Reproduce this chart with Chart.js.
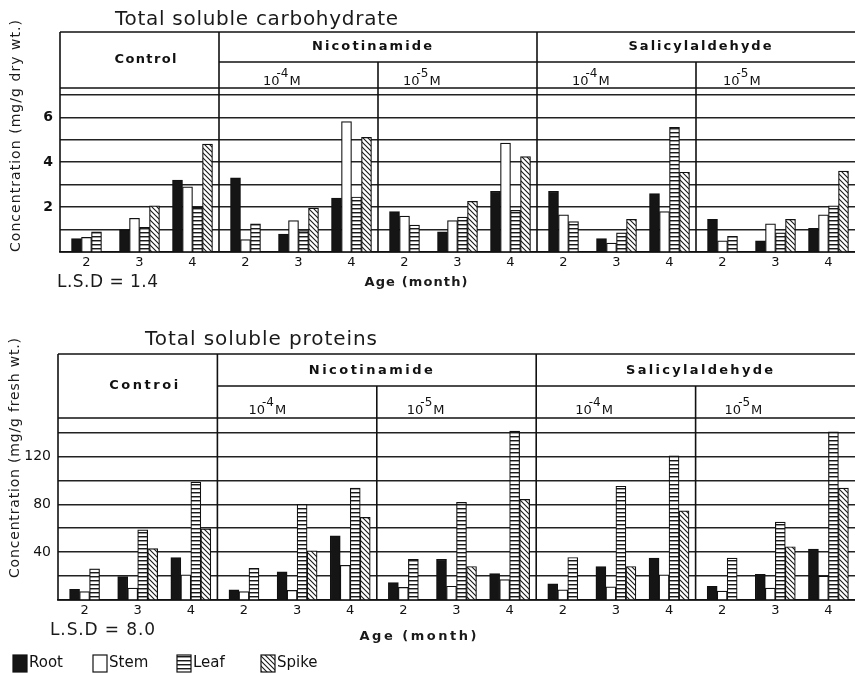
<!DOCTYPE html>
<html>
<head>
<meta charset="utf-8">
<script src="https://cdn.jsdelivr.net/npm/chart.js@4.4.0/dist/chart.umd.min.js"></script>
<style>
  html, body { margin: 0; padding: 0; background: #fff; overflow: hidden; }
  .box { position: absolute; left: 0; width: 855px; }
</style>
</head>
<body>
<div class="box" style="top:0;height:300px"><canvas id="c1"></canvas></div>
<div class="box" style="top:300px;height:373px"><canvas id="c2"></canvas></div>
<script>
// ---------- data ----------
const ages = ['2','3','4', '2','3','4', '2','3','4', '2','3','4', '2','3','4'];
const groupNames = ['Control', 'Nicotinamide', 'Salicylaldehyde'];
const concExp = ['-4', '-5', '-4', '-5'];
const seriesNames = ['Root', 'Stem', 'Leaf', 'Spike'];

// Total soluble carbohydrate (mg/g dry wt.)
const carbRoot  = [0.6, 1.0, 3.2,   3.3, 0.8, 2.4,   1.8, 0.9, 2.7,   2.7, 0.6, 2.6,   1.45, 0.5, 1.05];
const carbStem  = [0.65, 1.5, 2.9,  0.55, 1.4, 5.8,  1.6, 1.4, 4.85,  1.65, 0.4, 1.8,  0.5, 1.25, 1.65];
const carbLeaf  = [0.9, 1.1, 2.0,   1.25, 0.95, 2.45, 1.2, 1.55, 1.85, 1.35, 0.85, 5.55, 0.7, 0.85, 2.05];
const carbSpike = [null, 2.05, 4.8, null, 1.95, 5.1, null, 2.25, 4.25, null, 1.45, 3.55, null, 1.45, 3.6];
const carbTickLabels = [2, 4, 6];

// Total soluble proteins (mg/g fresh wt.)
const protRoot  = [9, 19.5, 35.5,  8.5, 23.5, 53.5,  14.5, 34, 22,   13.5, 28, 35,   11.5, 21.5, 42.5];
const protStem  = [7, 10, 21,      7, 8, 29,         10.5, 11.5, 17, 8.5, 11, 21,    7.5, 10, 20];
const protLeaf  = [26, 58.5, 98.5, 26.5, 80, 93.5,   34, 81.5, 141,  35.5, 95, 120.5, 35, 65, 140.5];
const protSpike = [null, 43, 59.5, null, 41, 69,     null, 28, 84,   null, 28, 74.5, null, 44.5, 93.5];
const protTickLabels = [40, 80, 120];

// ---------- fills ----------
function mkPattern(draw, w, h) {
  const c = document.createElement('canvas'); c.width = w; c.height = h;
  const g = c.getContext('2d');
  g.fillStyle = '#fff'; g.fillRect(0, 0, w, h);
  draw(g);
  return document.createElement('canvas').getContext('2d').createPattern(c, 'repeat');
}
const leafFill = mkPattern(g => { g.fillStyle = '#1a1a1a'; g.fillRect(0, 0, 4, 1); g.fillStyle='#999'; g.fillRect(0,1,4,1); }, 4, 4);
const spikeFill = mkPattern(g => {
  g.strokeStyle = '#1a1a1a'; g.lineWidth = 1.1;
  g.beginPath();
  g.moveTo(-1, -1); g.lineTo(6, 6);
  g.moveTo(-1, 4); g.lineTo(1, 6);
  g.moveTo(4, -1); g.lineTo(6, 1);
  g.stroke();
}, 5, 5);
const fills = ['#151515', '#ffffff', leafFill, spikeFill];

// ---------- drawing helpers ----------
function fitText(ctx, text, x, y, w, font, align) {
  ctx.font = font; ctx.letterSpacing = '0px';
  const m = ctx.measureText(text).width;
  const ls = (w - m) / Math.max(1, text.length - 1);
  ctx.letterSpacing = ls + 'px';
  ctx.textAlign = 'left'; ctx.textBaseline = 'middle';
  ctx.fillText(text, align === 'center' ? x - w / 2 : x, y);
  ctx.letterSpacing = '0px';
}
function line(ctx, x1, y1, x2, y2) { ctx.beginPath(); ctx.moveTo(x1, y1); ctx.lineTo(x2, y2); ctx.stroke(); }
function drawPow(ctx, x, y, exp) {
  ctx.textAlign = 'left'; ctx.textBaseline = 'alphabetic';
  ctx.font = '13px "DejaVu Sans"';
  ctx.fillText('10', x, y);
  const w = ctx.measureText('10').width;
  ctx.font = '12px "DejaVu Sans"';
  ctx.fillText(exp, x + w - 3, y - 8);
  const w2 = ctx.measureText(exp).width;
  ctx.font = '13px "DejaVu Sans"';
  ctx.fillText('M', x + w - 3 + w2 + 1, y);
}

function decorPlugin(cfg) {
  return {
    id: 'decor_' + cfg.key,
    afterDraw(chart) {
      const ctx = chart.ctx, a = chart.chartArea, xs = chart.scales.x;
      const edge = i => (xs.getPixelForTick(i) + xs.getPixelForTick(i + 1)) / 2;
      const L = a.left, R = a.right, T = a.top, B = a.bottom;
      const b = [edge(2), edge(5), edge(8), edge(11)];
      ctx.save();
      ctx.strokeStyle = '#111'; ctx.lineWidth = 1.6; ctx.fillStyle = '#111';
      // header frame
      line(ctx, L, cfg.hTop, R, cfg.hTop);
      line(ctx, b[0], cfg.hRow, R, cfg.hRow);
      line(ctx, L, T, R, T);
      line(ctx, L, cfg.hTop, L, B);
      line(ctx, b[0], cfg.hTop, b[0], B);
      line(ctx, b[2], cfg.hTop, b[2], B);
      line(ctx, b[1], cfg.hRow, b[1], B);
      line(ctx, b[3], cfg.hRow, b[3], B);
      // header texts
      fitText(ctx, cfg.controlText, (L + b[0]) / 2 + 6, cfg.ctrlY, cfg.ctrlW, 'bold 13px "DejaVu Sans"', 'center');
      fitText(ctx, groupNames[1], (b[0] + b[2]) / 2 - 6, cfg.grpY, cfg.nicW, 'bold 13px "DejaVu Sans"', 'center');
      fitText(ctx, groupNames[2], (b[2] + R) / 2 + 4, cfg.grpY, cfg.salW, 'bold 13px "DejaVu Sans"', 'center');
      const subLeft = [b[0], b[1], b[2], b[3]];
      subLeft.forEach((sx, i) => drawPow(ctx, sx + cfg.powOff[i], cfg.powY, concExp[i]));
      // title
      ctx.fillStyle = '#1a1a1a';
      fitText(ctx, cfg.title, cfg.titleX, cfg.titleY, cfg.titleW, '20px "DejaVu Sans"', 'left');
      // y title
      ctx.save();
      ctx.translate(cfg.yTitleX, cfg.yTitleY);
      ctx.rotate(-Math.PI / 2);
      fitText(ctx, cfg.yTitle, 0, 0, cfg.yTitleW, '14px "DejaVu Sans"', 'center');
      ctx.restore();
      // LSD + x title
      fitText(ctx, cfg.lsd, cfg.lsdX, cfg.lsdY, cfg.lsdW, '17px "DejaVu Sans"', 'left');
      fitText(ctx, 'Age (month)', cfg.ageX, cfg.ageY, cfg.ageW, 'bold 13px "DejaVu Sans"', 'center');
      // legend
      if (cfg.legend) {
        const lg = cfg.legend;
        seriesNames.forEach((n, i) => {
          const bx = lg.x[i];
          ctx.fillStyle = fills[i];
          ctx.fillRect(bx, lg.y, lg.w, lg.h);
          ctx.lineWidth = 1.2; ctx.strokeStyle = '#111';
          ctx.strokeRect(bx, lg.y, lg.w, lg.h);
          ctx.fillStyle = '#111';
          ctx.font = '15px "DejaVu Sans"'; ctx.textAlign = 'left'; ctx.textBaseline = 'middle';
          ctx.fillText(n, bx + lg.w + 2, lg.y + lg.h / 2);
        });
      }
      ctx.restore();
    }
  };
}

function makeChart(id, series, cfg) {
  return new Chart(document.getElementById(id), {
    type: 'bar',
    data: {
      labels: ages,
      datasets: series.map((d, i) => ({
        label: seriesNames[i], data: d,
        backgroundColor: fills[i], borderColor: '#111', borderWidth: 1.2,
        barThickness: 10, skipNull: true
      }))
    },
    options: {
      responsive: true, maintainAspectRatio: false, animation: false,
      layout: { padding: { top: cfg.top, left: 0, right: 0, bottom: 0 } },
      plugins: { legend: { display: false }, tooltip: { enabled: false }, title: { display: false } },
      scales: {
        x: {
          grid: { display: false, drawTicks: false },
          border: { display: true, color: '#111', width: 1.8 },
          ticks: { padding: 3, color: '#111', font: { family: 'DejaVu Sans', size: 13 }, autoSkip: false, maxRotation: 0 },
          afterFit: s => { s.height = cfg.xh; }
        },
        y: {
          min: 0, max: cfg.max,
          grid: { color: '#222', lineWidth: 1.4, drawTicks: false },
          border: { display: false },
          ticks: {
            stepSize: cfg.step, includeBounds: false, padding: 7, color: '#111',
            font: { family: 'DejaVu Sans', size: 14, weight: cfg.tickWeight },
            callback: v => cfg.tickLabels.includes(v) ? String(v) : ''
          },
          afterFit: s => { s.width = cfg.left; }
        }
      }
    },
    plugins: [decorPlugin(cfg)]
  });
}

makeChart('c1', [carbRoot, carbStem, carbLeaf, carbSpike], {
  key: 'carb', top: 88, xh: 48, left: 60, max: 7.3, step: 1, tickLabels: carbTickLabels, tickWeight: 'bold',
  hTop: 32, hRow: 62, controlText: 'Control', ctrlY: 60, ctrlW: 62, grpY: 47, nicW: 120, salW: 143,
  powOff: [44, 25, 35, 27], powY: 85,
  title: 'Total soluble carbohydrate', titleX: 115, titleY: 20, titleW: 283,
  yTitle: 'Concentration (mg/g dry wt.)', yTitleX: 16, yTitleY: 136, yTitleW: 232,
  lsd: 'L.S.D = 1.4', lsdX: 57, lsdY: 283, lsdW: 101,
  ageX: 416, ageY: 283, ageW: 103
});

makeChart('c2', [protRoot, protStem, protLeaf, protSpike], {
  key: 'prot', top: 118, xh: 73, left: 58, max: 152, step: 20, tickLabels: protTickLabels, tickWeight: 'normal',
  hTop: 54, hRow: 86, controlText: 'Controi', ctrlY: 86, ctrlW: 69, grpY: 71, nicW: 124, salW: 147,
  powOff: [31, 30, 39, 29], powY: 114,
  title: 'Total soluble proteins', titleX: 145, titleY: 40, titleW: 232,
  yTitle: 'Concentration (mg/g fresh wt.)', yTitleX: 15, yTitleY: 158, yTitleW: 240,
  lsd: 'L.S.D = 8.0', lsdX: 50, lsdY: 331, lsdW: 105,
  ageX: 418, ageY: 337, ageW: 117,
  legend: { x: [13, 93, 177, 261], y: 355, w: 14, h: 17 }
});
</script>
</body>
</html>
